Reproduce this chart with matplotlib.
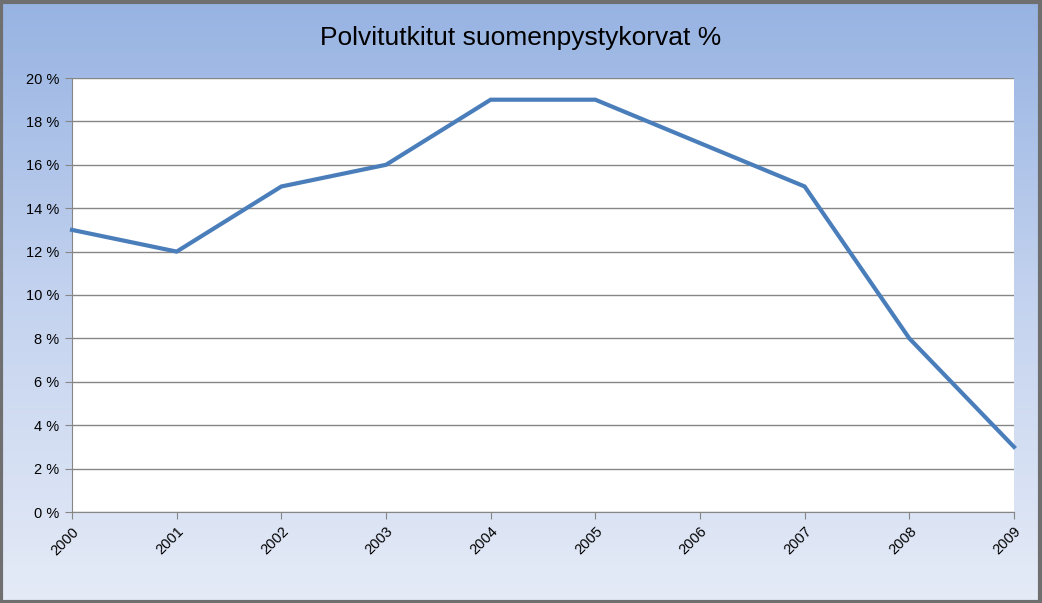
import numpy as np
import matplotlib
matplotlib.use("Agg")
import matplotlib.pyplot as plt
from matplotlib.colors import LinearSegmentedColormap
from matplotlib.patches import Rectangle
from matplotlib.ticker import FuncFormatter

years = ['2000', '2001', '2002', '2003', '2004', '2005', '2006', '2007', '2008', '2009']
values = [13, 12, 15, 16, 19, 19, 17, 15, 8, 3]
title = 'Polvitutkitut suomenpystykorvat %'

plt.rcParams['font.family'] = ['Liberation Sans', 'DejaVu Sans']

fig = plt.figure(figsize=(10.42, 6.03), dpi=100)

# gradient background
bg = fig.add_axes([0, 0, 1, 1], zorder=-5)
grad = np.linspace(0, 1, 256).reshape(-1, 1)
cmap = LinearSegmentedColormap.from_list('bg', ['#97b3e2', '#c4d3ef', '#e5ebf7'])
bg.imshow(grad, aspect='auto', cmap=cmap, extent=[0, 1, 0, 1], origin='upper')
bg.set_xlim(0, 1)
bg.set_ylim(0, 1)
bg.axis('off')
bg.add_patch(Rectangle((0.001, 0.002), 0.997, 0.995, transform=bg.transAxes,
                       fill=False, edgecolor='#6f6f6f', linewidth=3))

ax = fig.add_axes([72 / 1042, 1 - 512 / 603, 942 / 1042, 434 / 603])
ax.set_facecolor('white')
x = np.arange(len(years))
ax.plot(x, values, color='#4a7ebb', linewidth=3, solid_joinstyle='miter', clip_on=False, zorder=3)

ax.set_xlim(0, len(years) - 1)
ax.set_ylim(0, 20)
ax.set_yticks(range(0, 21, 2))
ax.yaxis.set_major_formatter(FuncFormatter(lambda v, p: f'{int(v)} %'))
ax.set_xticks(x)
ax.set_xticklabels(years, rotation=45, ha='right', rotation_mode='anchor')
ax.grid(axis='y', color='#868686', linewidth=1)
ax.set_axisbelow(True)
for s in ['top', 'right']:
    ax.spines[s].set_visible(False)
for s in ['left', 'bottom']:
    ax.spines[s].set_color('#868686')
ax.tick_params(axis='both', colors='#868686', labelcolor='black', labelsize=10.5, length=5)
ax.tick_params(axis='y', pad=4)
ax.tick_params(axis='x', pad=4)

fig.text(0.5, 1 - 38 / 603, title, ha='center', va='center', fontsize=19)

fig.savefig('out.png', dpi=100)
